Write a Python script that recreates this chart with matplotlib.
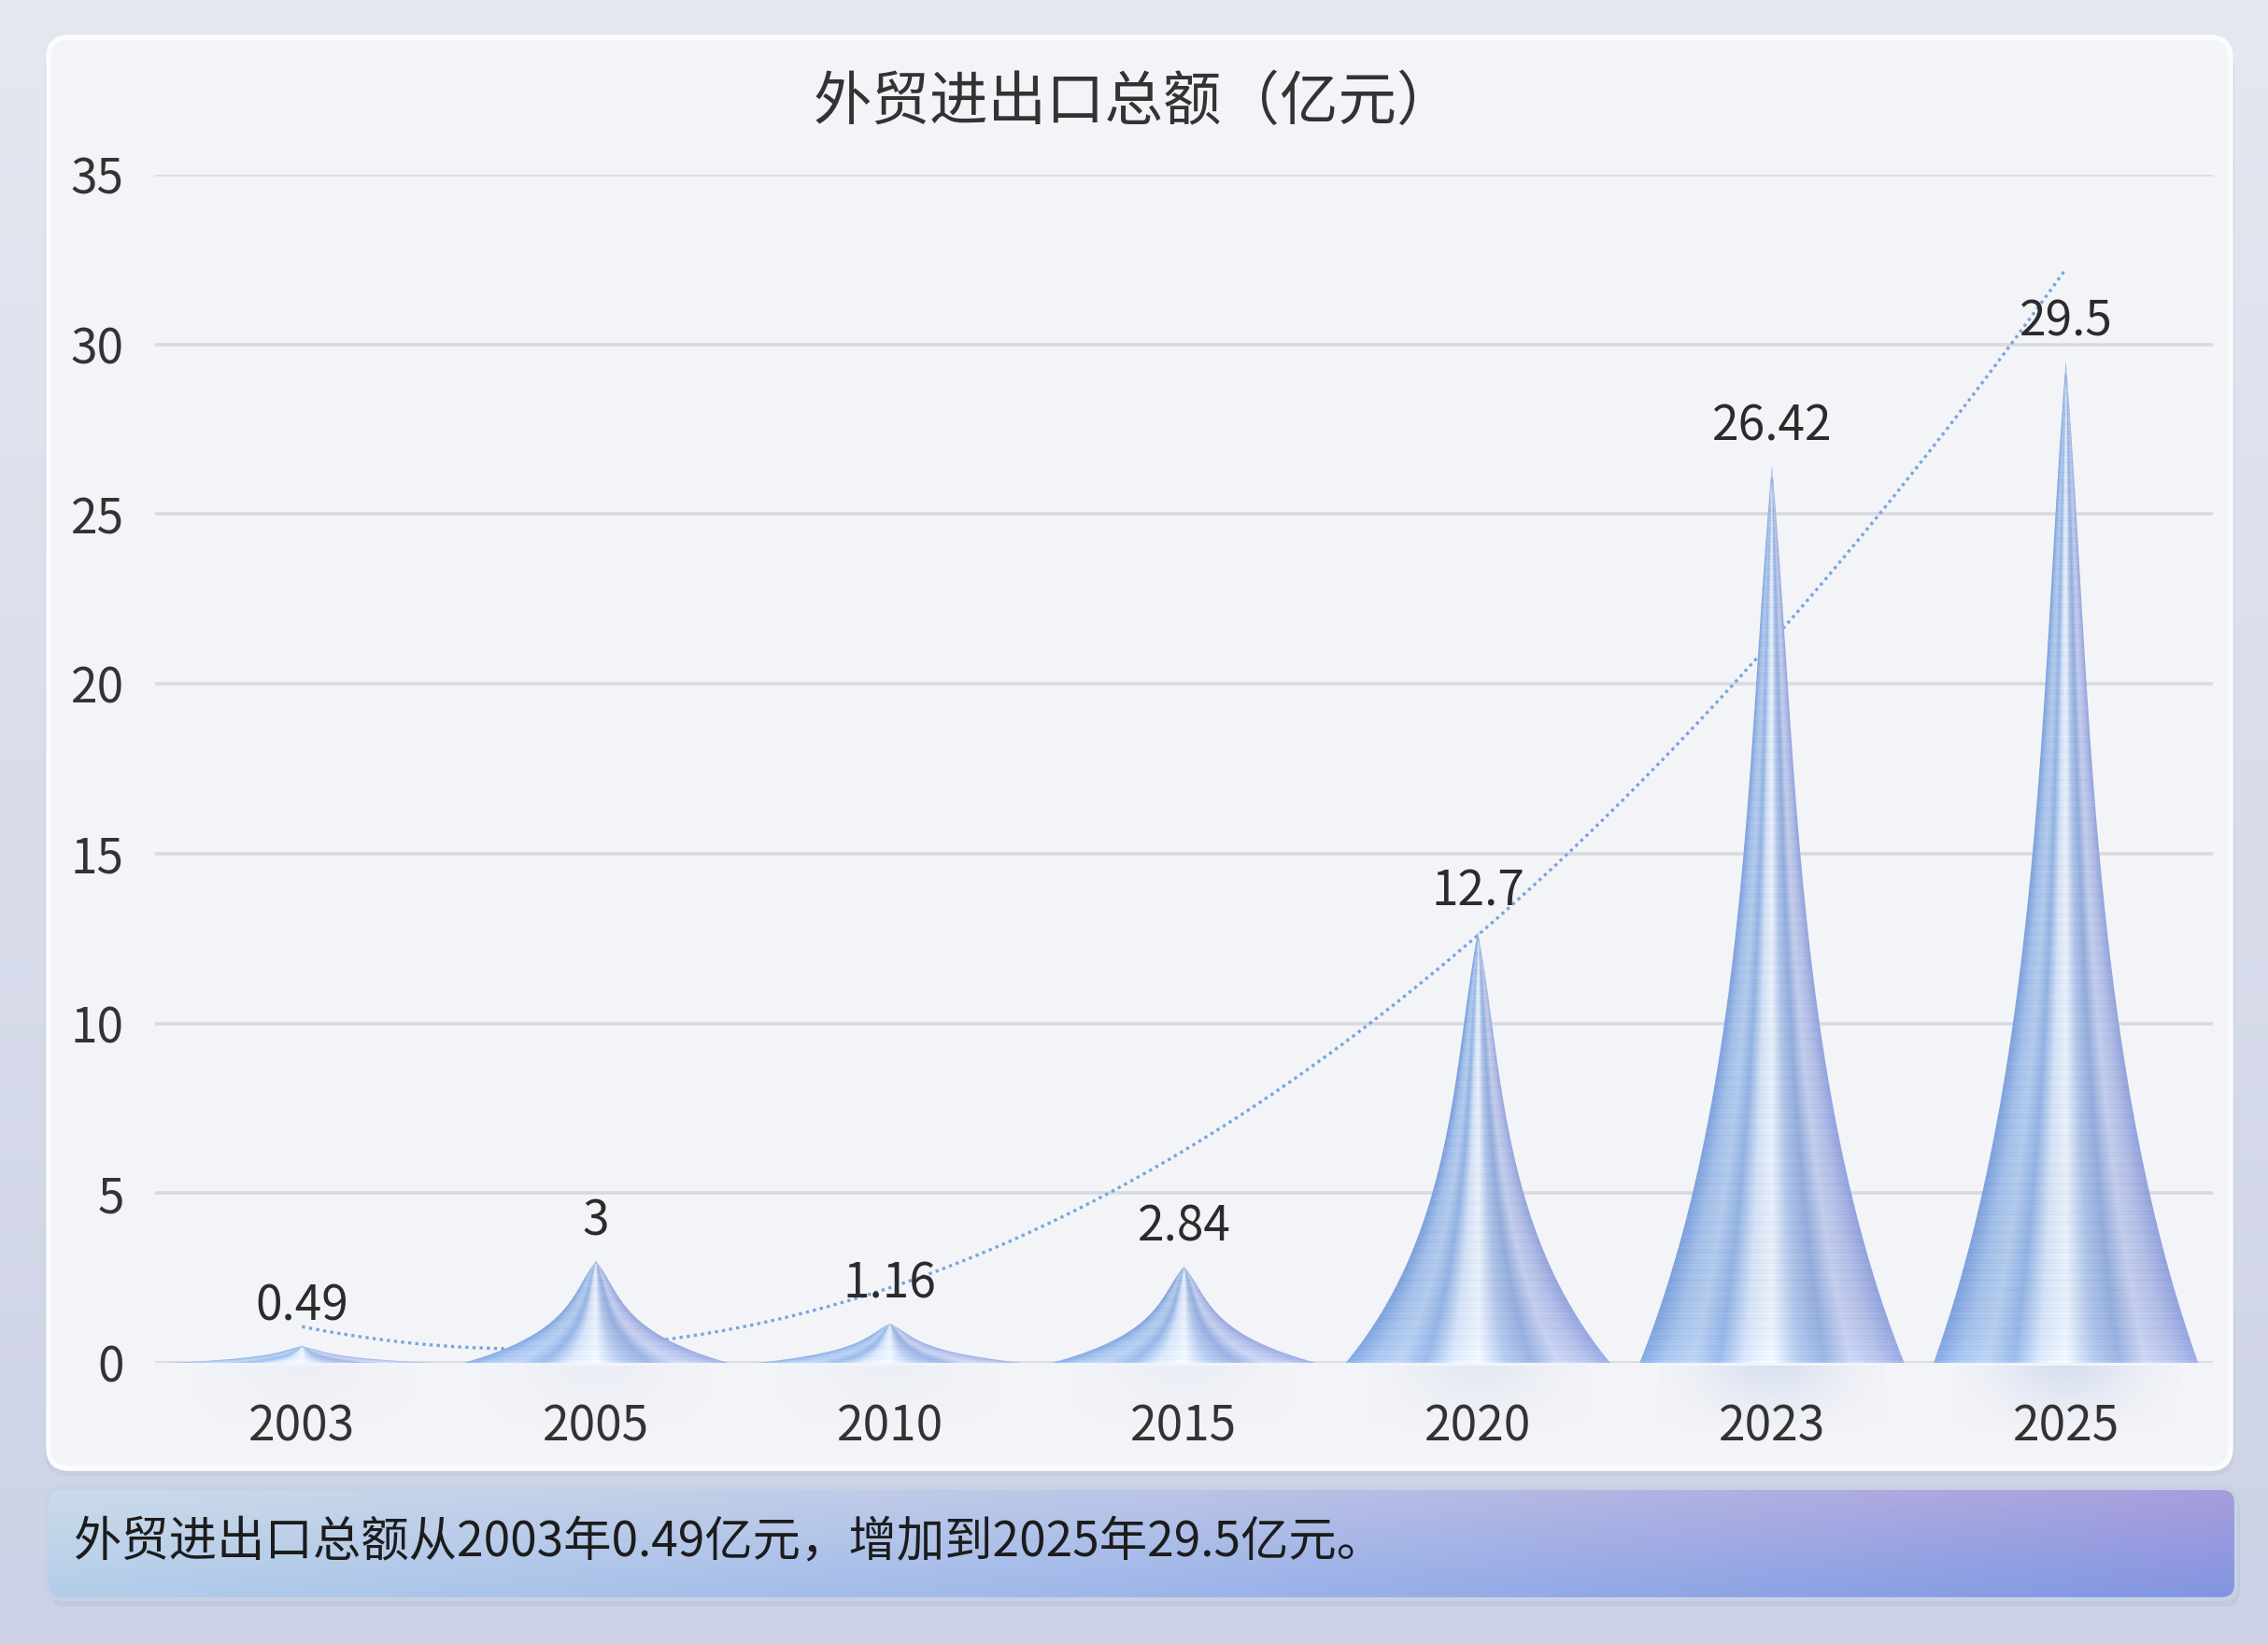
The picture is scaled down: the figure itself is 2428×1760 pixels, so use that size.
import numpy as np
import matplotlib
matplotlib.use('Agg')
import matplotlib.pyplot as plt
from matplotlib.patches import FancyBboxPatch, Polygon
from matplotlib.colors import LinearSegmentedColormap, to_rgb

plt.rcParams['font.family'] = ['Noto Sans CJK SC', 'DejaVu Sans']

# ---------------- data ----------------
categories = ['2003', '2005', '2010', '2015', '2020', '2023', '2025']
values = [0.49, 3, 1.16, 2.84, 12.7, 26.42, 29.5]
value_labels = ['0.49', '3', '1.16', '2.84', '12.7', '26.42', '29.5']
y_ticks = [0, 5, 10, 15, 20, 25, 30, 35]
title = '外贸进出口总额（亿元）'
caption = '外贸进出口总额从2003年0.49亿元，增加到2025年29.5亿元。'

# ---------------- figure ----------------
W, H, DPI = 2428, 1760, 200
fig = plt.figure(figsize=(W / DPI, H / DPI), dpi=DPI)

bg = fig.add_axes([0, 0, 1, 1], zorder=0)
bg.set_xlim(0, W)
bg.set_ylim(H, 0)
bg.axis('off')

# page background gradient
t = np.linspace(0, 1, 64)[:, None, None]
c_top = np.array(to_rgb('#e5e8f0'))
c_bot = np.array(to_rgb('#cdd2e6'))
grad = c_top * (1 - t) + c_bot * t
bg.imshow(grad, extent=[0, W, H, 0], aspect='auto', interpolation='bicubic', zorder=0)

# card shadow + card
shadow = FancyBboxPatch((48, 46), 2344, 1534, boxstyle='round,pad=0,rounding_size=24',
                        fc='#c3c9da', ec='none', alpha=0.55, zorder=1)
bg.add_patch(shadow)
card = FancyBboxPatch((52, 40), 2336, 1532, boxstyle='round,pad=0,rounding_size=22',
                      fc='#f3f4f8', ec='#fbfcfe', lw=2, zorder=2)
bg.add_patch(card)

# caption box with gradient
cap_x0, cap_x1, cap_y0, cap_y1 = 50, 2394, 1593, 1712
cap_patch = FancyBboxPatch((cap_x0, cap_y0), cap_x1 - cap_x0, cap_y1 - cap_y0,
                           boxstyle='round,pad=0,rounding_size=16',
                           fc='none', ec='#c5d2e6', lw=1.5, zorder=4)
cap_shadow = FancyBboxPatch((cap_x0 + 4, cap_y0 + 8), cap_x1 - cap_x0, cap_y1 - cap_y0,
                            boxstyle='round,pad=0,rounding_size=16',
                            fc='#b8bfd8', ec='none', alpha=0.5, zorder=2)
bg.add_patch(cap_shadow)
tops = [to_rgb('#cddbea'), to_rgb('#bcc6e7'), to_rgb('#a99ddc')]
bots = [to_rgb('#b2cdea'), to_rgb('#9cb6ea'), to_rgb('#8195e2')]
nx, ny = 300, 40
xs_ = np.linspace(0, 1, nx)
top_row = np.stack([np.interp(xs_, [0, 0.5, 1], [c[k] for c in tops]) for k in range(3)], axis=-1)
bot_row = np.stack([np.interp(xs_, [0, 0.5, 1], [c[k] for c in bots]) for k in range(3)], axis=-1)
vv = np.linspace(0, 1, ny)[:, None, None]
cap_img = top_row[None, :, :] * (1 - vv) + bot_row[None, :, :] * vv
im = bg.imshow(cap_img, extent=[cap_x0, cap_x1, cap_y1, cap_y0], aspect='auto',
               interpolation='bicubic', zorder=3)
bg.add_patch(cap_patch)
im.set_clip_path(cap_patch)

bg.text(78, 1651, caption, fontsize=18.5, ha='left', va='center', color='#1c1c1c', zorder=5)
bg.text(1214, 110, title, fontsize=22.5, ha='center', va='center', color='#333333', zorder=5)

# ---------------- main axes ----------------
ax_l, ax_r, ax_t, ax_b = 166, 2369, 187, 1459
ax = fig.add_axes([ax_l / W, 1 - ax_b / H, (ax_r - ax_l) / W, (ax_b - ax_t) / H], zorder=2)
ax.patch.set_alpha(0)

# soft reflections under the spikes (in pixel space)
slot = (ax_r - ax_l) / len(categories)
for i, v in enumerate(values):
    cx = ax_l + (i + 0.5) * slot
    strength = 0.08 + 0.30 * min(v / 30.0, 1.0)
    a = np.linspace(strength, 0, 40)[:, None]
    xw = np.linspace(-1, 1, 60)[None, :]
    alpha = a * np.exp(-(xw ** 2) * 2.5)
    rgba = np.zeros((40, 60, 4))
    rgba[..., :3] = to_rgb('#a9bbe3')
    rgba[..., 3] = alpha
    bg.imshow(rgba, extent=[cx - 120, cx + 120, ax_b + 75, ax_b + 3], aspect='auto',
              interpolation='bicubic', zorder=3)

ax.set_yticks(y_ticks)
ax.set_xticks(range(len(categories)), categories)
ax.tick_params(length=0, labelsize=18.5, labelcolor='#333333')
ax.tick_params(axis='y', pad=12)
ax.tick_params(axis='x', pad=15)
ax.yaxis.grid(True, color='#d8dadf', lw=1.3, zorder=0)
ax.set_axisbelow(True)
for s in ax.spines.values():
    s.set_visible(False)

# trend line (quadratic fit of the data)
coef = np.polyfit(np.arange(len(values)), values, 2)
xt = np.linspace(0, len(values) - 1, 400)
ax.plot(xt, np.polyval(coef, xt), color='#78a4dd', lw=1.2, ls=(0, (1, 1.3)),
        zorder=2.5, clip_on=False)


def profile(fr):
    """relative half-width of the spike at relative height fr (smooth, concave)."""
    return np.exp(-2.7 * fr) * (1.0 - fr ** 9)


cmap = LinearSegmentedColormap.from_list('metal', [
    (0.00, '#7ea2dd'), (0.10, '#a3bfe9'), (0.20, '#b3caec'), (0.30, '#93b2e3'),
    (0.40, '#d3e1f5'), (0.50, '#e8eff9'), (0.60, '#aec3e8'), (0.70, '#93acdb'),
    (0.80, '#c3cdec'), (0.90, '#b2bde6'), (1.00, '#92a3dc')])
HW = 0.45
px_per_unit = (ax_b - ax_t) / 35.0
for i, v in enumerate(values):
    f = np.linspace(0, 1, 500)
    hw = HW * profile(f)
    px = np.concatenate([i - hw, (i + hw)[::-1]])
    py = np.concatenate([v * f, (v * f)[::-1]])
    poly = Polygon(np.column_stack([px, py]), closed=True, fc='none', ec='none')
    ax.add_patch(poly)
    nxs = 260
    nys = max(int(v * px_per_unit) + 2, 10)
    gx = np.linspace(i - HW, i + HW, nxs)
    gy = np.linspace(0, v, nys)
    X, Y = np.meshgrid(gx, gy)
    F = Y / v
    hwg = HW * profile(F) + 1e-9
    U = np.clip((X - i) / hwg, -1, 1)
    rgb = cmap((U + 1) / 2)[..., :3]
    ypix = Y * px_per_unit
    streak = 0.012 * (np.sin(ypix * 1.7) + 0.7 * np.sin(ypix * 0.61 + 1.3) + 0.5 * np.sin(ypix * 3.3 + 0.4))
    base_light = 0.05 * np.exp(-ypix / 25.0)
    rgb = np.clip(rgb + streak[..., None] + base_light[..., None], 0, 1)
    img = ax.imshow(rgb, extent=[i - HW, i + HW, 0, v], origin='lower', aspect='auto',
                    interpolation='bilinear', zorder=3)
    img.set_clip_path(poly)
    ax.annotate(value_labels[i], (i, v), xytext=(0, 10), textcoords='offset points',
                ha='center', va='baseline', fontsize=18.5, color='#2b2b2b', zorder=5)

ax.set_xlim(-0.5, len(categories) - 0.5)
ax.set_ylim(0, 35)

fig.savefig('out.png', dpi=DPI)
